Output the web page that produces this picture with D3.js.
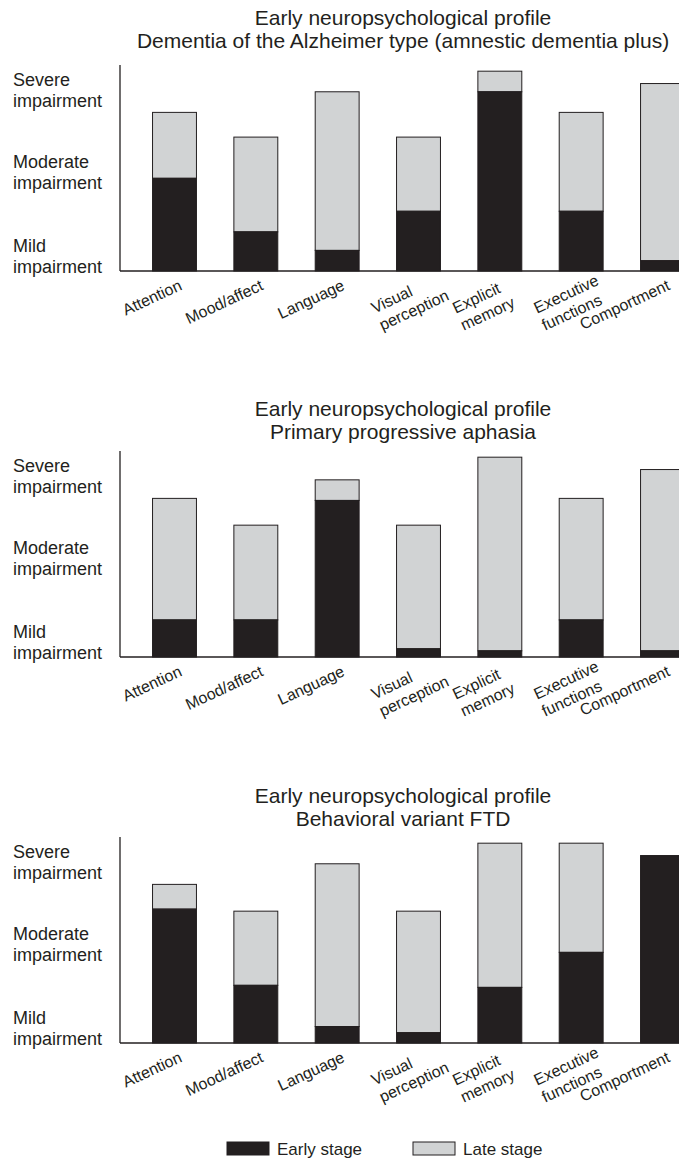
<!DOCTYPE html>
<html>
<head>
<meta charset="utf-8">
<script src="https://cdn.jsdelivr.net/npm/d3@7"></script>
<style>
  html, body { margin: 0; padding: 0; background: #fff; }
  svg { display: block; font-family: "Liberation Sans", Arial, Helvetica, sans-serif; }
</style>
</head>
<body>
<svg id="chart" width="679" height="1161"></svg>
<script>
'use strict';

// Chart data
const categories = ['Attention', 'Mood/affect', 'Language', 'Visual perception', 'Explicit memory', 'Executive functions', 'Comportment'];
const categoryLines = [['Attention'], ['Mood/affect'], ['Language'], ['Visual', 'perception'], ['Explicit', 'memory'], ['Executive', 'functions'], ['Comportment']];
const headline = 'Early neuropsychological profile';
const panelTitles = ['Dementia of the Alzheimer type (amnestic dementia plus)', 'Primary progressive aphasia', 'Behavioral variant FTD'];
// impairment level (0-100) reached at early stage and at late stage
const earlyAD = [45, 19, 10, 29, 87, 29, 5];
const lateAD = [77, 65, 87, 65, 97, 77, 91];
const earlyPPA = [18, 18, 76, 4, 3, 18, 3];
const latePPA = [77, 64, 86, 64, 97, 77, 91];
const earlyFTD = [65, 28, 8, 5, 27, 44, 91];
const lateFTD = [77, 64, 87, 64, 97, 97, 91];
const levelLabels = [['Mild', 'impairment'], ['Moderate', 'impairment'], ['Severe', 'impairment']];
const levelValues = [9, 50, 90];
const legendLabels = ['Early stage', 'Late stage'];

window.addEventListener('load', function() {
  const svg = d3.select('#chart');
  const dark = '#231f20';
  const light = '#d1d3d4';
  const panels = [[earlyAD, lateAD], [earlyPPA, latePPA], [earlyFTD, lateFTD]];
  const panelTop = [65, 451, 837];
  const titleGap = [17, 12, 11];
  const plotH = 206;

  const x = d3.scaleBand().domain(categories).range([120, 717])
    .paddingInner(0.46).paddingOuter(0.4);

  panels.forEach(([early, late], p) => {
    const top = panelTop[p];
    const g = svg.append('g');
    const y = d3.scaleLinear().domain([0, 100]).range([top + plotH, top]);

    // titles
    g.append('text').attr('x', 403).attr('y', top - titleGap[p] - 23)
      .attr('text-anchor', 'middle').attr('font-size', 21).attr('fill', dark).text(headline);
    g.append('text').attr('x', 403).attr('y', top - titleGap[p])
      .attr('text-anchor', 'middle').attr('font-size', 21).attr('fill', dark).text(panelTitles[p]);

    // bars: late stage behind, early stage in front
    const rows = categories.map((c, i) => ({c, early: early[i], late: late[i]}));
    g.selectAll('rect.late').data(rows.filter(d => d.late > d.early)).enter().append('rect')
      .attr('class', 'late')
      .attr('x', d => x(d.c)).attr('width', x.bandwidth())
      .attr('y', d => y(d.late)).attr('height', d => y(d.early) - y(d.late))
      .attr('fill', light).attr('stroke', dark).attr('stroke-width', 1);
    g.selectAll('rect.early').data(rows).enter().append('rect')
      .attr('class', 'early')
      .attr('x', d => x(d.c)).attr('width', x.bandwidth())
      .attr('y', d => y(d.early)).attr('height', d => y(0) - y(d.early))
      .attr('fill', dark).attr('stroke', dark).attr('stroke-width', 1);

    // axes
    g.append('line').attr('x1', 120).attr('x2', 120).attr('y1', y(100)).attr('y2', y(0))
      .attr('stroke', dark).attr('stroke-width', 1.3);
    g.append('line').attr('x1', 120).attr('x2', 679).attr('y1', y(0)).attr('y2', y(0))
      .attr('stroke', dark).attr('stroke-width', 1.3);

    // impairment levels
    levelLabels.forEach((lines, i) => {
      const t = g.append('text').attr('font-size', 18).attr('fill', dark);
      lines.forEach((s, k) => t.append('tspan').attr('x', 13)
        .attr('y', y(levelValues[i]) + k * 21).text(s));
    });

    // category labels, tilted
    categoryLines.forEach((lines, i) => {
      const lab = g.append('g')
        .attr('transform', `translate(${x(categories[i]) + x.bandwidth() / 2},${y(0)}) rotate(-25)`);
      const t = lab.append('text').attr('font-size', 16).attr('fill', dark);
      if (lines.length === 1) {
        t.attr('text-anchor', 'end').attr('x', 0).attr('y', 20).text(lines[0]);
      } else {
        lines.forEach((s, k) => t.append('tspan').attr('x', -58).attr('y', 20 + k * 19).text(s));
      }
    });
  });

  // legend
  const legend = svg.append('g');
  [[dark, 227], [light, 413]].forEach(([fill, lx], i) => {
    legend.append('rect').attr('x', lx).attr('y', 1142).attr('width', 42).attr('height', 13)
      .attr('fill', fill).attr('stroke', dark).attr('stroke-width', 1);
    legend.append('text').attr('x', lx + 50).attr('y', 1155).attr('font-size', 17)
      .attr('fill', dark).text(legendLabels[i]);
  });
});
</script>
</body>
</html>
